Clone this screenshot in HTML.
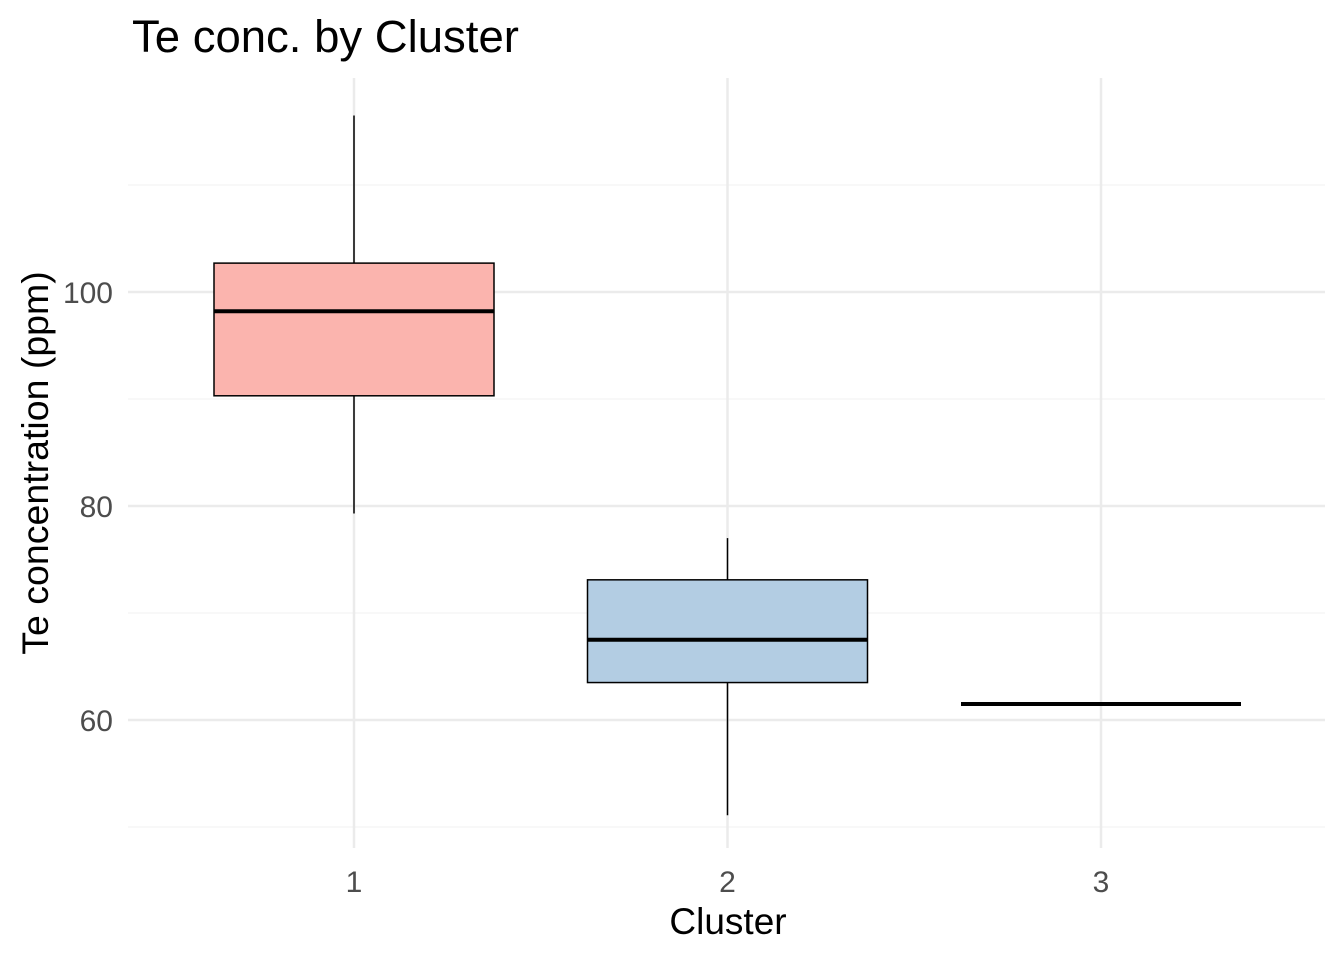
<!DOCTYPE html>
<html><head><meta charset="utf-8"><style>
html,body{margin:0;padding:0;background:#fff;}
svg{display:block;font-family:"Liberation Sans",Arial,sans-serif;}
</style></head><body>
<svg id="chart" width="1344" height="960"></svg>
<script>
const categories = ["1","2","3"];
const whiskerLow = [79.3, 51.1, 61.5];
const q1 = [90.3, 63.5, 61.5];
const medians = [98.2, 67.5, 61.5];
const q3 = [102.7, 73.1, 61.5];
const whiskerHigh = [116.5, 77.0, 61.5];
const fills = ["#FBB4AE","#B3CDE3","#CCEBC5"];
const majorTicks = [60, 80, 100];
const minorTicks = [50, 70, 90, 110];

const NS = "http://www.w3.org/2000/svg";
const svg = document.getElementById("chart");
function el(tag, attrs, parent){const e=document.createElementNS(NS,tag);for(const k in attrs)e.setAttribute(k,attrs[k]);(parent||svg).appendChild(e);return e;}
const plotLeft=128,plotRight=1325,plotTop=78,plotBottom=848;
function yScale(v){return 292+(100-v)*10.7;}
function xScale(i){return 354+i*373.5;}

for(const t of minorTicks){
  const l=el("line",{x1:plotLeft,x2:plotRight,y1:yScale(t),y2:yScale(t),stroke:"#F0F0F0","stroke-width":1});
  
  
}
for(const t of majorTicks){
  const l=el("line",{x1:plotLeft,x2:plotRight,y1:yScale(t),y2:yScale(t),stroke:"#EBEBEB","stroke-width":2.5});
  
  
  const tx=el("text",{x:113,y:yScale(t)+11,"text-anchor":"end","font-size":30,fill:"#4D4D4D"});
  tx.textContent=t;
  
  
}
categories.forEach((c,i)=>{
  const l=el("line",{x1:xScale(i),x2:xScale(i),y1:plotTop,y2:plotBottom,stroke:"#EBEBEB","stroke-width":2.5});
  
  
  const tx=el("text",{x:xScale(i),y:892,"text-anchor":"middle","font-size":30,fill:"#4D4D4D"});
  tx.textContent=c;
  
  
});
const hw=140;
categories.forEach((c,i)=>{
  const g=el("g",{});
  
  
  el("line",{x1:xScale(i),x2:xScale(i),y1:yScale(whiskerHigh[i]),y2:yScale(q3[i]),stroke:"#000","stroke-width":1.5},g);
  el("line",{x1:xScale(i),x2:xScale(i),y1:yScale(q1[i]),y2:yScale(whiskerLow[i]),stroke:"#000","stroke-width":1.5},g);
  el("rect",{x:xScale(i)-hw,y:yScale(q3[i]),width:2*hw,height:Math.max(0,yScale(q1[i])-yScale(q3[i])),fill:fills[i],stroke:"#000","stroke-width":1.5},g);
  el("line",{x1:xScale(i)-hw,x2:xScale(i)+hw,y1:yScale(medians[i]),y2:yScale(medians[i]),stroke:"#000","stroke-width":4},g);
});
const title=el("text",{x:132,y:52,"font-size":45.5,fill:"#000"});
title.textContent="Te conc. by Cluster";


const xt=el("text",{x:728,y:934,"text-anchor":"middle","font-size":37,fill:"#000"});
xt.textContent="Cluster";


const yt=el("text",{x:0,y:0,"text-anchor":"middle","font-size":37.5,fill:"#000",transform:"translate(48,463) rotate(-90)"});
yt.textContent="Te concentration (ppm)";


</script>
</body></html>
